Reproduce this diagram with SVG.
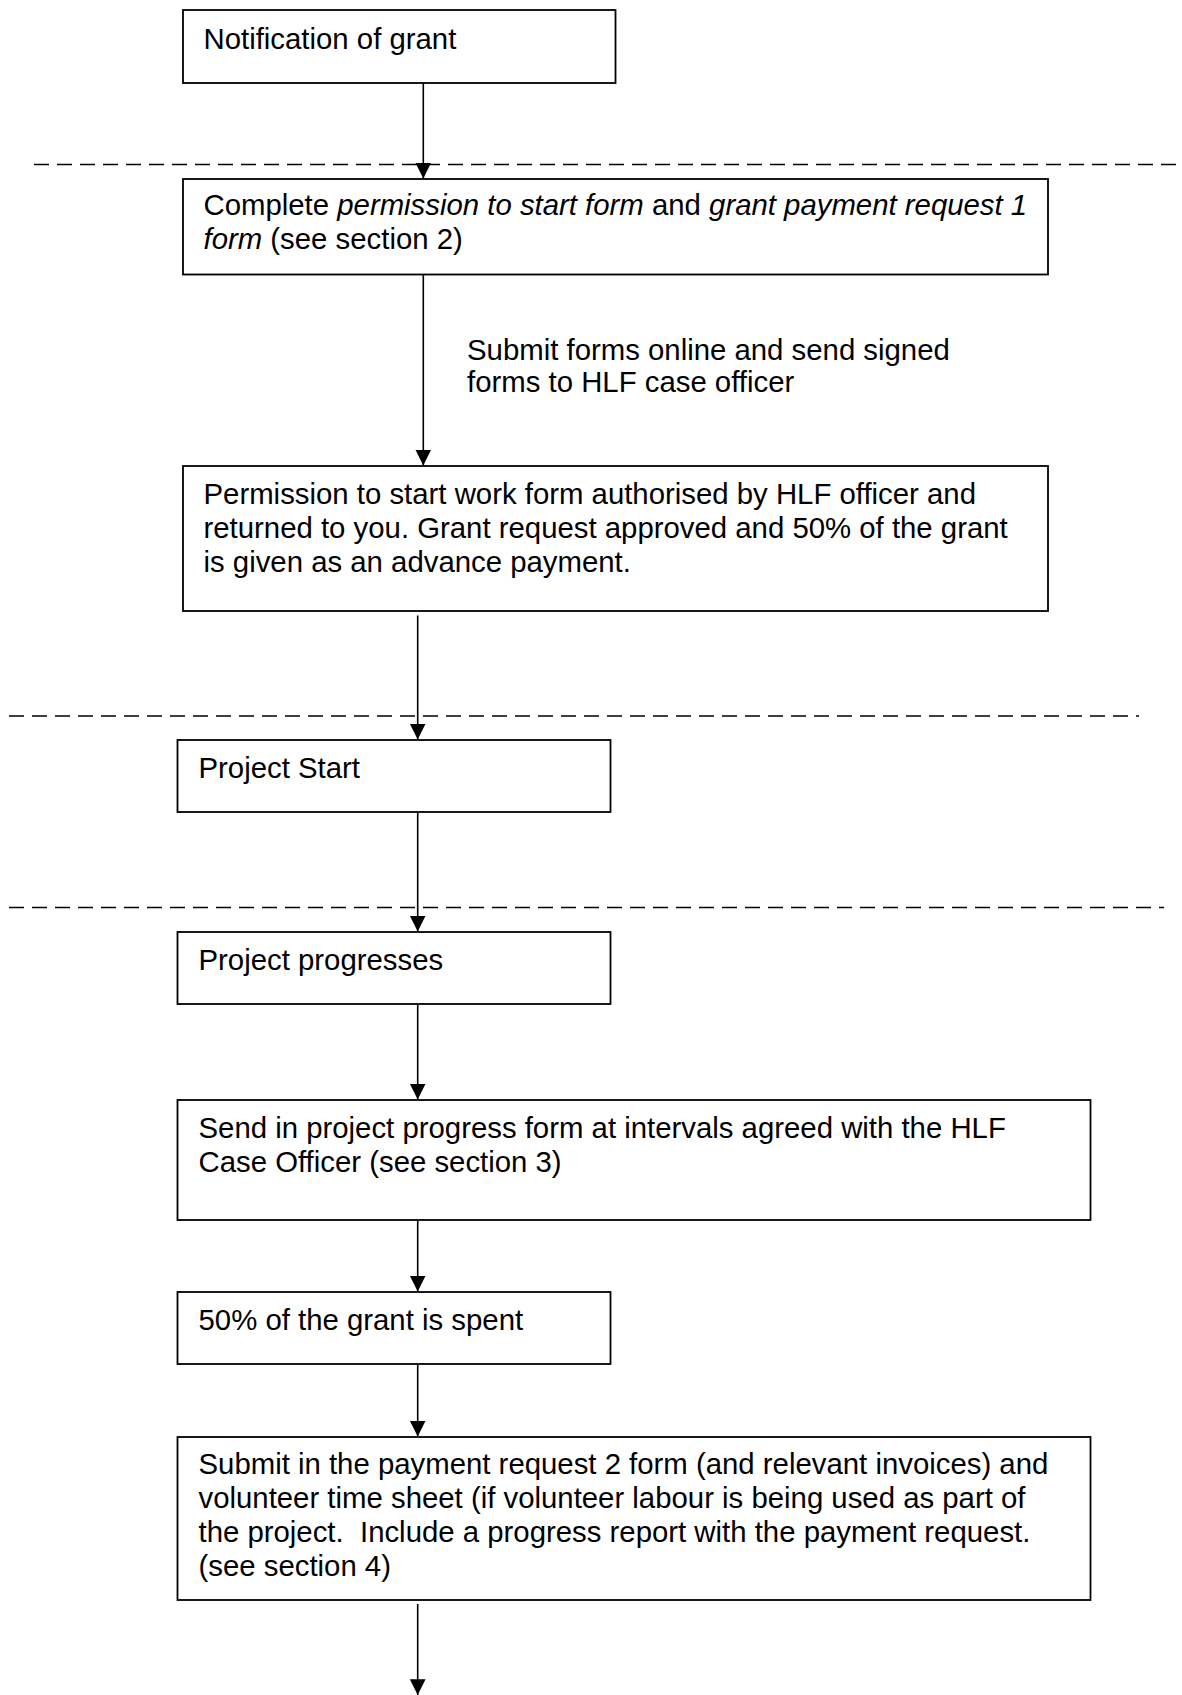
<svg xmlns="http://www.w3.org/2000/svg" width="1182" height="1695" viewBox="0 0 1182 1695">
<style>
.box{fill:#fff;stroke:#000;stroke-width:1.8}
.t{font-family:"Liberation Sans",Arial,sans-serif;font-size:29.35px;fill:#000;white-space:pre}
.i{font-style:italic}
.dash{stroke:#000;stroke-width:1.6;stroke-dasharray:15 8;fill:none}
.conn{stroke:#000;stroke-width:1.6;fill:none;marker-end:url(#ah)}
</style>
<defs>
<marker id="ah" markerUnits="userSpaceOnUse" markerWidth="16" markerHeight="18" viewBox="0 0 14 16" refX="14" refY="7" orient="auto">
<path d="M0,0 L14,7 L0,14 Z" fill="#000"/>
</marker>
</defs>
<rect width="1182" height="1695" fill="#fff"/>
<g id="separators">
<line class="dash" x1="34" y1="164.5" x2="1182" y2="164.5"/>
<line class="dash" x1="9" y1="716" x2="1139" y2="716"/>
<line class="dash" x1="9" y1="907.5" x2="1164" y2="907.5"/>
</g>
<g id="n1">
<rect class="box" x="183" y="10" width="432.5" height="73"/>
<text class="t" x="203.5" y="48.5">Notification of grant</text>
</g>
<g id="n2">
<rect class="box" x="183" y="179" width="865" height="95.5"/>
<text class="t" x="203.5" y="215">Complete <tspan class="i">permission to start form</tspan> and <tspan class="i">grant payment request 1</tspan></text>
<text class="t" x="203.5" y="248.5"><tspan class="i">form</tspan> (see section 2)</text>
</g>
<g id="label1">
<text class="t" x="467" y="359.5">Submit forms online and send signed</text>
<text class="t" x="467" y="392">forms to HLF case officer</text>
</g>
<g id="n3">
<rect class="box" x="183" y="466" width="865" height="145"/>
<text class="t" x="203.5" y="503.5">Permission to start work form authorised by HLF officer and</text>
<text class="t" x="203.5" y="537.5">returned to you. Grant request approved and 50% of the grant</text>
<text class="t" x="203.5" y="571.5">is given as an advance payment.</text>
</g>
<g id="n4">
<rect class="box" x="177.5" y="740" width="433" height="72"/>
<text class="t" x="198.5" y="777.5">Project Start</text>
</g>
<g id="n5">
<rect class="box" x="177.5" y="932" width="433" height="72"/>
<text class="t" x="198.5" y="969.5">Project progresses</text>
</g>
<g id="n6">
<rect class="box" x="177.5" y="1100" width="913" height="120"/>
<text class="t" x="198.5" y="1137.5">Send in project progress form at intervals agreed with the HLF</text>
<text class="t" x="198.5" y="1171.5">Case Officer (see section 3)</text>
</g>
<g id="n7">
<rect class="box" x="177.5" y="1292" width="433" height="72"/>
<text class="t" x="198.5" y="1329.5">50% of the grant is spent</text>
</g>
<g id="n8">
<rect class="box" x="177.5" y="1437" width="913" height="163"/>
<text class="t" x="198.5" y="1474">Submit in the payment request 2 form (and relevant invoices) and</text>
<text class="t" x="198.5" y="1508">volunteer time sheet (if volunteer labour is being used as part of</text>
<text class="t" x="198.5" y="1542">the project.  Include a progress report with the payment request.</text>
<text class="t" x="198.5" y="1576">(see section 4)</text>
</g>
<g id="connectors">
<line class="conn" x1="423.3" y1="83" x2="423.3" y2="178.5"/>
<line class="conn" x1="423.3" y1="274.5" x2="423.3" y2="465.5"/>
<line class="conn" x1="417.7" y1="615.5" x2="417.7" y2="739.5"/>
<line class="conn" x1="417.7" y1="812" x2="417.7" y2="931.5"/>
<line class="conn" x1="417.7" y1="1004" x2="417.7" y2="1099.5"/>
<line class="conn" x1="417.7" y1="1220" x2="417.7" y2="1291.5"/>
<line class="conn" x1="417.7" y1="1364" x2="417.7" y2="1436.5"/>
<line class="conn" x1="417.7" y1="1604" x2="417.7" y2="1695"/>
</g>
</svg>
